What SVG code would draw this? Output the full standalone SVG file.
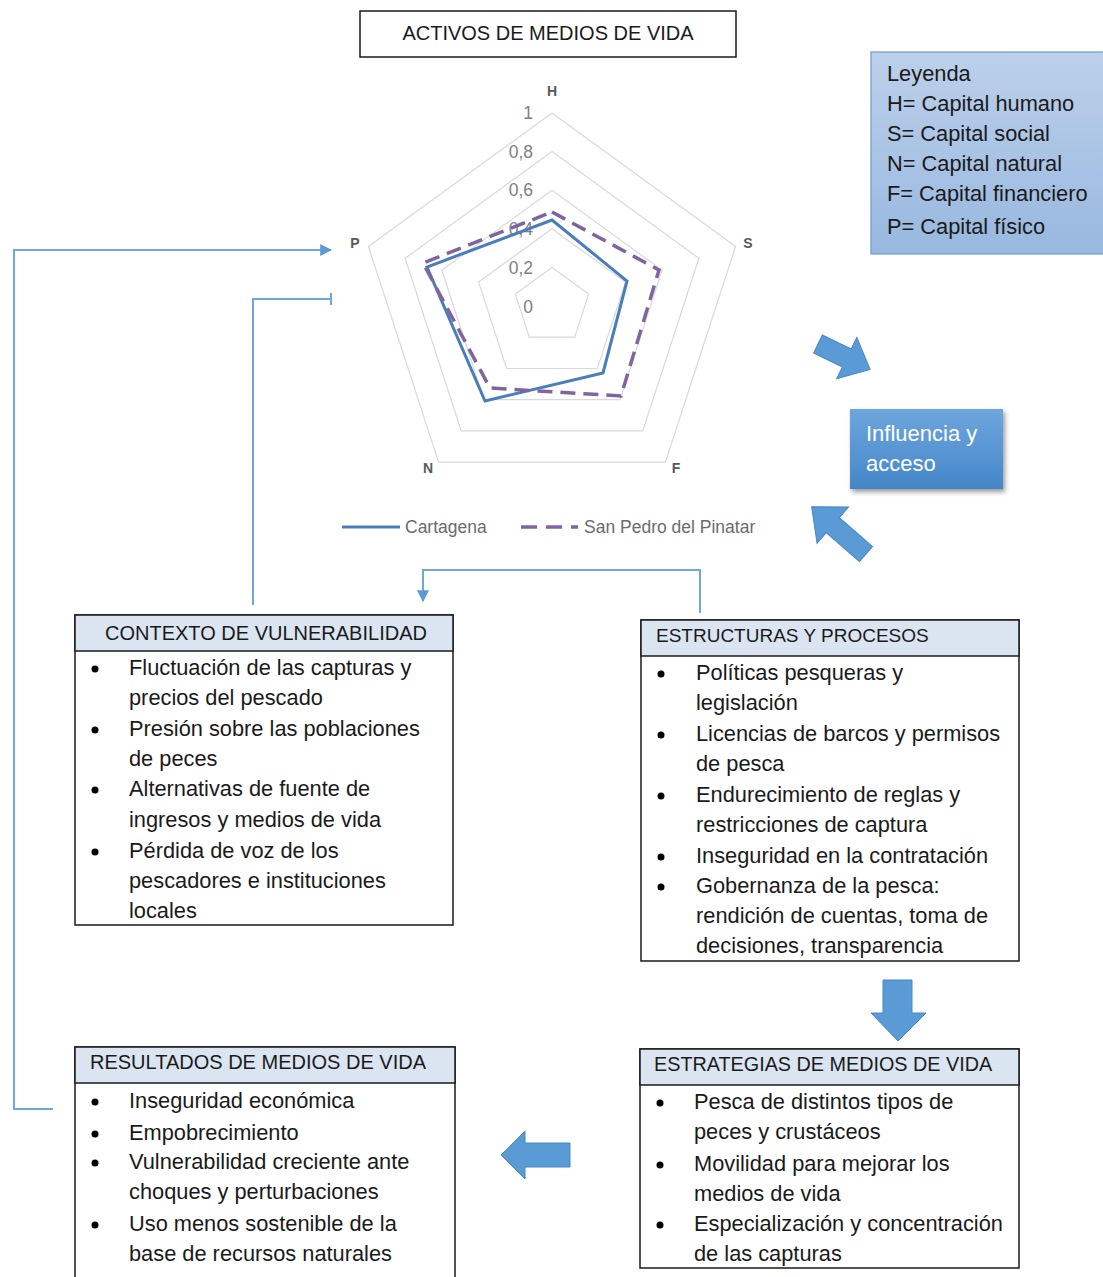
<svg xmlns="http://www.w3.org/2000/svg" width="1103" height="1277" viewBox="0 0 1103 1277">
<style>
.t{font-family:"Liberation Sans",Arial,sans-serif;fill:#1a1a1a}
.b{font-size:21.8px}
.h{font-size:19.8px}
.box{fill:#fff;stroke:#1a1a1a;stroke-width:1.5}
.hdr{fill:#dbe5f1;stroke:#1a1a1a;stroke-width:1.5}
.ring{fill:none;stroke:#d9d9d9;stroke-width:1.2}
.val{font-family:"Liberation Sans",Arial,sans-serif;font-size:17.5px;fill:#7f7f7f;text-anchor:end}
.ax{font-family:"Liberation Sans",Arial,sans-serif;font-size:14px;font-weight:bold;fill:#595959;text-anchor:middle}
.lg{font-family:"Liberation Sans",Arial,sans-serif;font-size:17.5px;fill:#6b6b6b}
.con{fill:none;stroke:#6fa8dc;stroke-width:2}
.blk{fill:#5b9bd5;stroke:#4a86c5;stroke-width:1}
</style>
<defs>
<marker id="ah" viewBox="0 0 10 10" refX="9" refY="5" markerWidth="6" markerHeight="6" orient="auto" markerUnits="strokeWidth"><path d="M0,0 L10,5 L0,10 Z" fill="#5b9bd5"/></marker>
<linearGradient id="lgd" x1="0" y1="0" x2="0" y2="1"><stop offset="0" stop-color="#bcd0ea"/><stop offset="1" stop-color="#98b8df"/></linearGradient>
<linearGradient id="inf" x1="0" y1="0" x2="0" y2="1"><stop offset="0" stop-color="#6ea6de"/><stop offset="1" stop-color="#4586c8"/></linearGradient>
<filter id="sh" x="-20%" y="-20%" width="150%" height="150%"><feDropShadow dx="2" dy="3" stdDeviation="2.5" flood-color="#000" flood-opacity="0.4"/></filter>
</defs>

<g id="title">
<rect x="360" y="11" width="376" height="46" fill="#fff" stroke="#1a1a1a" stroke-width="1.5"/>
<text class="t" x="548" y="40" font-size="20px" text-anchor="middle">ACTIVOS DE MEDIOS DE VIDA</text>
</g>

<g id="radar">
<polygon class="ring" points="552,113 735.6,246.4 665.4,462.1 438.6,462.1 368.4,246.4"/>
<polygon class="ring" points="552,151.6 698.9,258.3 642.8,430.9 461.2,430.9 405.1,258.3"/>
<polygon class="ring" points="552,190.2 662.1,270.2 620.1,399.7 483.9,399.7 441.9,270.2"/>
<polygon class="ring" points="552,228.8 625.4,282.1 597.4,368.5 506.6,368.5 478.6,282.1"/>
<polygon class="ring" points="552,267.4 588.7,294.1 574.7,337.2 529.3,337.2 515.3,294.1"/>
<text class="val" x="533" y="119">1</text>
<text class="val" x="533" y="158">0,8</text>
<text class="val" x="533" y="196">0,6</text>
<text class="val" x="533" y="235">0,4</text>
<text class="val" x="533" y="274">0,2</text>
<text class="val" x="533" y="313">0</text>
<text class="ax" x="552" y="96">H</text>
<text class="ax" x="748" y="248">S</text>
<text class="ax" x="676" y="473">F</text>
<text class="ax" x="428" y="473">N</text>
<text class="ax" x="355" y="248">P</text>
<polygon points="552,220 627,281 603,373 485,401 427,267" fill="none" stroke="#4a7ebb" stroke-width="3" stroke-linejoin="miter"/>
<polygon points="552,212 659,270 621,396 490,388 423,263" fill="none" stroke="#8064a2" stroke-width="3.5" stroke-dasharray="15,8"/>
<line x1="342" y1="527" x2="400" y2="527" stroke="#4a7ebb" stroke-width="3"/>
<text class="lg" x="405" y="533">Cartagena</text>
<line x1="521" y1="527" x2="578" y2="527" stroke="#8064a2" stroke-width="3.5" stroke-dasharray="16,9"/>
<text class="lg" x="584" y="533">San Pedro del Pinatar</text>
</g>

<g id="leyenda">
<rect x="871" y="52" width="240" height="202" fill="url(#lgd)" stroke="#6d9bd1" stroke-width="1.2"/>
<text class="t" x="887" y="81" font-size="21.8px">Leyenda</text>
<text class="t" x="887" y="111" font-size="21.8px">H= Capital humano</text>
<text class="t" x="887" y="141" font-size="21.8px">S= Capital social</text>
<text class="t" x="887" y="171" font-size="21.8px">N= Capital natural</text>
<text class="t" x="887" y="201" font-size="21.8px">F= Capital financiero</text>
<text class="t" x="887" y="234" font-size="21.8px">P= Capital físico</text>
</g>

<g id="influencia">
<rect x="850" y="409" width="153" height="80" fill="url(#inf)" filter="url(#sh)"/>
<text x="866" y="441" font-family="Liberation Sans,Arial,sans-serif" font-size="22px" fill="#fff">Influencia y</text>
<text x="866" y="471" font-family="Liberation Sans,Arial,sans-serif" font-size="22px" fill="#fff">acceso</text>
</g>

<g id="contexto">
<rect class="box" x="75" y="615" width="378" height="310"/>
<rect class="hdr" x="75" y="615" width="378" height="36"/>
<text class="t" x="105" y="640" font-size="20px">CONTEXTO DE VULNERABILIDAD</text>
<g fill="#000"><circle cx="95" cy="669" r="3.5"/><circle cx="95" cy="730" r="3.5"/><circle cx="95" cy="790" r="3.5"/><circle cx="95" cy="852" r="3.5"/></g>
<text class="t b" x="129" y="675">Fluctuación de las capturas y</text>
<text class="t b" x="129" y="705">precios del pescado</text>
<text class="t b" x="129" y="736">Presión sobre las poblaciones</text>
<text class="t b" x="129" y="766">de peces</text>
<text class="t b" x="129" y="796">Alternativas de fuente de</text>
<text class="t b" x="129" y="827">ingresos y medios de vida</text>
<text class="t b" x="129" y="858">Pérdida de voz de los</text>
<text class="t b" x="129" y="888">pescadores e instituciones</text>
<text class="t b" x="129" y="918">locales</text>
</g>

<g id="estructuras">
<rect class="box" x="641" y="620" width="378" height="341"/>
<rect class="hdr" x="641" y="620" width="378" height="36"/>
<text class="t" x="656" y="642" font-size="19px">ESTRUCTURAS Y PROCESOS</text>
<g fill="#000"><circle cx="661" cy="674" r="3.5"/><circle cx="661" cy="735" r="3.5"/><circle cx="661" cy="796" r="3.5"/><circle cx="661" cy="857" r="3.5"/><circle cx="661" cy="887" r="3.5"/></g>
<text class="t b" x="696" y="680">Políticas pesqueras y</text>
<text class="t b" x="696" y="710">legislación</text>
<text class="t b" x="696" y="741">Licencias de barcos y permisos</text>
<text class="t b" x="696" y="771">de pesca</text>
<text class="t b" x="696" y="802">Endurecimiento de reglas y</text>
<text class="t b" x="696" y="832">restricciones de captura</text>
<text class="t b" x="696" y="863">Inseguridad en la contratación</text>
<text class="t b" x="696" y="893">Gobernanza de la pesca:</text>
<text class="t b" x="696" y="923">rendición de cuentas, toma de</text>
<text class="t b" x="696" y="953">decisiones, transparencia</text>
</g>

<g id="estrategias">
<rect class="box" x="640" y="1049" width="379" height="219"/>
<rect class="hdr" x="640" y="1049" width="379" height="36"/>
<text class="t h" x="654" y="1071">ESTRATEGIAS DE MEDIOS DE VIDA</text>
<g fill="#000"><circle cx="660" cy="1103" r="3.5"/><circle cx="660" cy="1165" r="3.5"/><circle cx="660" cy="1225" r="3.5"/></g>
<text class="t b" x="694" y="1109">Pesca de distintos tipos de</text>
<text class="t b" x="694" y="1139">peces y crustáceos</text>
<text class="t b" x="694" y="1171">Movilidad para mejorar los</text>
<text class="t b" x="694" y="1201">medios de vida</text>
<text class="t b" x="694" y="1231">Especialización y concentración</text>
<text class="t b" x="694" y="1261">de las capturas</text>
</g>

<g id="resultados">
<rect class="box" x="75" y="1047" width="380" height="240"/>
<rect class="hdr" x="75" y="1047" width="380" height="36"/>
<text class="t" x="90" y="1069" font-size="20px">RESULTADOS DE MEDIOS DE VIDA</text>
<g fill="#000"><circle cx="95" cy="1102" r="3.5"/><circle cx="95" cy="1134" r="3.5"/><circle cx="95" cy="1163" r="3.5"/><circle cx="95" cy="1225" r="3.5"/></g>
<text class="t b" x="129" y="1108">Inseguridad económica</text>
<text class="t b" x="129" y="1140">Empobrecimiento</text>
<text class="t b" x="129" y="1169">Vulnerabilidad creciente ante</text>
<text class="t b" x="129" y="1199">choques y perturbaciones</text>
<text class="t b" x="129" y="1231">Uso menos sostenible de la</text>
<text class="t b" x="129" y="1261">base de recursos naturales</text>
</g>

<g id="connectors">
<polyline class="con" points="53,1109 14,1109 14,250 331,250" marker-end="url(#ah)"/>
<polyline class="con" points="253,605 253,299 331,299"/>
<line class="con" x1="331" y1="293" x2="331" y2="305"/>
<polyline class="con" points="700,613 700,570 423,570 423,601" marker-end="url(#ah)"/>
<path class="blk" d="M0,-10 L32,-10 L32,-23 L58,0 L32,23 L32,10 L0,10 Z" transform="translate(818,344) rotate(26)"/>
<path class="blk" d="M0,-10 L44,-10 L44,-24 L72,0 L44,24 L44,10 L0,10 Z" transform="translate(866,554) rotate(-139)"/>
<polygon class="blk" points="883,980 912,980 912,1013 926,1013 898,1041 871,1013 883,1013"/>
<polygon class="blk" points="570,1143 525,1143 525,1131 501,1155 525,1179 525,1167 570,1167"/>
</g>
</svg>
